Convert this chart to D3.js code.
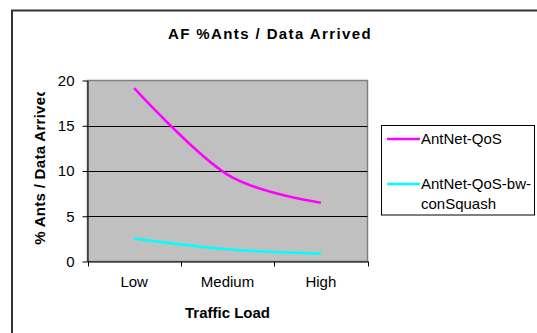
<!DOCTYPE html>
<html>
<head>
<meta charset="utf-8">
<script src="https://cdn.jsdelivr.net/npm/d3@7"></script>
<style>
  html, body { margin: 0; padding: 0; background: #fff; }
  svg { display: block; font-family: "Liberation Sans", Arial, sans-serif; }
</style>
</head>
<body>
<svg id="chart" width="537" height="333"></svg>
<script>
// Traffic load levels and the share of ant packets per arrived data packet
const categories = ["Low", "Medium", "High"];
const antnetQoS = [19.15, 9.6, 6.5];
const antnetQoSBw = [2.55, 1.35, 0.85];
const seriesNames = ["AntNet-QoS", "AntNet-QoS-bw-conSquash"];
const yTicks = [0, 5, 10, 15, 20];

const series = [
  { name: seriesNames[0], values: antnetQoS, color: "#FF00FF" },
  { name: seriesNames[1], values: antnetQoSBw, color: "#00FFFF" }
];

const FS = 15;
const svg = d3.select("#chart");
const plot = { left: 87.5, right: 367.5, top: 80.5, bottom: 261.5 };

// Outer chart frame (extends past the right and bottom edges)
svg.append("rect")
  .attr("x", 12).attr("y", 10.5)
  .attr("width", 600).attr("height", 400)
  .attr("fill", "#fff").attr("stroke", "#333").attr("stroke-width", 2);

svg.append("text")
  .attr("x", 270).attr("y", 39)
  .attr("text-anchor", "middle")
  .attr("font-weight", "bold").attr("font-size", FS)
  .attr("letter-spacing", 1.4)
  .text("AF %Ants / Data Arrived");

const x = d3.scaleBand().domain(categories).range([plot.left, plot.right]);
const y = d3.scaleLinear().domain([0, 20]).range([plot.bottom, plot.top]);

// Plot area
svg.append("rect")
  .attr("x", plot.left).attr("y", plot.top)
  .attr("width", plot.right - plot.left).attr("height", plot.bottom - plot.top)
  .attr("fill", "#C0C0C0").attr("stroke", "#808080").attr("stroke-width", 1.5);

// Horizontal gridlines
svg.append("g")
  .selectAll("line")
  .data(yTicks.filter(v => v > 0 && v < 20))
  .join("line")
  .attr("x1", plot.left).attr("x2", plot.right)
  .attr("y1", d => Math.round(y(d)) + 0.5).attr("y2", d => Math.round(y(d)) + 0.5)
  .attr("stroke", "#000").attr("stroke-width", 1);

// Y axis
const yAxis = svg.append("g")
  .attr("transform", `translate(${plot.left},0)`)
  .call(d3.axisLeft(y).tickValues(yTicks).tickSize(5).tickPadding(8).tickSizeOuter(0));
yAxis.select(".domain").attr("stroke", "#000");
yAxis.selectAll(".tick line").attr("stroke", "#000");
yAxis.selectAll("text")
  .attr("font-family", "Liberation Sans, Arial, sans-serif")
  .attr("font-size", FS).attr("fill", "#000");

// X axis with ticks on category boundaries
const xAxis = svg.append("g")
  .attr("transform", `translate(0,${plot.bottom})`)
  .call(d3.axisBottom(x).tickSize(0).tickPadding(15));
xAxis.select(".domain").attr("stroke", "#000");
xAxis.selectAll("text")
  .attr("font-family", "Liberation Sans, Arial, sans-serif")
  .attr("font-size", FS).attr("fill", "#000");
const bounds = categories.map(c => x(c)).concat([x.range()[1]]);
xAxis.selectAll("line.bound")
  .data(bounds)
  .join("line")
  .attr("class", "bound")
  .attr("x1", d => Math.round(d) + 0.5).attr("x2", d => Math.round(d) + 0.5)
  .attr("y1", 0).attr("y2", 5)
  .attr("stroke", "#000");

// Axis titles
svg.append("text")
  .attr("x", (plot.left + plot.right) / 2).attr("y", 318)
  .attr("text-anchor", "middle")
  .attr("font-weight", "bold").attr("font-size", FS)
  .text("Traffic Load");

// Y title is cut off at its top end
svg.append("clipPath").attr("id", "ytclip")
  .append("rect").attr("x", 0).attr("y", 92).attr("width", 80).attr("height", 200);
svg.append("g")
  .attr("clip-path", "url(#ytclip)")
  .append("text")
  .attr("transform", "translate(45,166) rotate(-90)")
  .attr("text-anchor", "middle")
  .attr("font-weight", "bold").attr("font-size", FS)
  .attr("letter-spacing", 0.3)
  .text("% Ants / Data Arrived");

// Series lines, smoothed
const line = d3.line()
  .x((d, i) => x(categories[i]) + x.bandwidth() / 2)
  .y(d => y(d))
  .curve(d3.curveCatmullRom.alpha(0));

svg.append("g")
  .selectAll("path")
  .data(series)
  .join("path")
  .attr("d", d => line(d.values))
  .attr("fill", "none")
  .attr("stroke", d => d.color)
  .attr("stroke-width", 2.5);

// Legend
const legend = svg.append("g");
legend.append("rect")
  .attr("x", 381.5).attr("y", 125.5)
  .attr("width", 153).attr("height", 89.5)
  .attr("fill", "#fff").attr("stroke", "#000").attr("stroke-width", 1);

const legendRows = [
  { s: series[0], y: 139, lines: ["AntNet-QoS"] },
  { s: series[1], y: 184, lines: ["AntNet-QoS-bw-", "conSquash"] }
];
legendRows.forEach(r => {
  legend.append("line")
    .attr("x1", 387).attr("x2", 420)
    .attr("y1", r.y).attr("y2", r.y)
    .attr("stroke", r.s.color).attr("stroke-width", 2.5);
  const t = legend.append("text")
    .attr("x", 421).attr("y", r.y + 5)
    .attr("font-size", FS);
  r.lines.forEach((ln, i) => {
    t.append("tspan").attr("x", 421).attr("dy", i === 0 ? 0 : 19.5).text(ln);
  });
});
</script>
</body>
</html>
